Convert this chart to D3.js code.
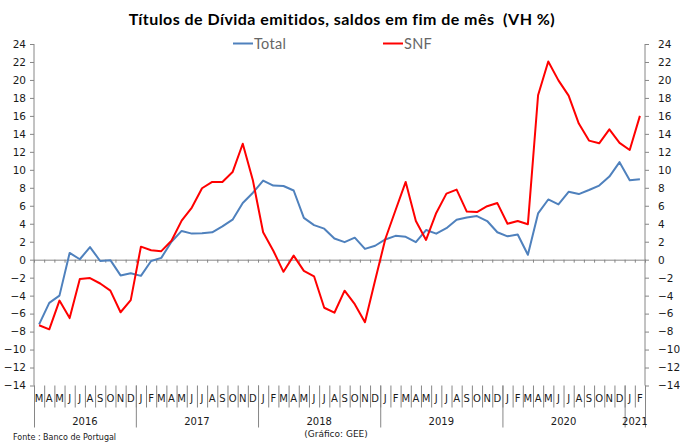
<!DOCTYPE html>
<html>
<head>
<meta charset="utf-8">
<script src="https://cdn.jsdelivr.net/npm/d3@7"></script>
<style>
body { margin: 0; background: #fff; }
svg { display: block; }
</style>
</head>
<body>
<div id="canvas"></div>
<script>
// ----------------------------------------------------------
// DATA -----------------------------------------------------
// ----------------------------------------------------------
// month letters, Mar 2016 .. Feb 2021
var month_labels = [
"M","A","M","J","J","A","S","O","N","D",
"J","F","M","A","M","J","J","A","S","O","N","D",
"J","F","M","A","M","J","J","A","S","O","N","D",
"J","F","M","A","M","J","J","A","S","O","N","D",
"J","F","M","A","M","J","J","A","S","O","N","D",
"J","F"];
// year groups: label + number of months
var year_labels = ["2016","2017","2018","2019","2020","2021"];
var year_counts = [10, 12, 12, 12, 12, 2];

var series_names = ["Total", "SNF"];

var values_total = [
-7.2, -4.8, -4.0, 0.75, 0.05, 1.4, -0.15, -0.05, -1.75, -1.5,
-1.8, -0.15, 0.2, 2.0, 3.2, 2.9, 2.95, 3.05, 3.7, 4.45, 6.3, 7.45,
8.8, 8.25, 8.2, 7.7, 4.65, 3.85, 3.45, 2.35, 1.95, 2.45, 1.2, 1.55,
2.25, 2.65, 2.55, 1.95, 3.3, 2.9, 3.5, 4.45, 4.7, 4.85, 4.3, 3.05,
2.6, 2.8, 0.55, 5.15, 6.7, 6.15, 7.55, 7.3, 7.75, 8.25, 9.25, 10.85,
8.85, 8.95];

var values_snf = [
-7.3, -7.75, -4.55, -6.5, -2.15, -2.05, -2.65, -3.45, -5.85, -4.5,
1.45, 1.05, 0.95, 2.1, 4.35, 5.8, 7.95, 8.65, 8.65, 9.75, 12.9, 8.8,
3.05, 1.0, -1.35, 0.45, -1.25, -1.85, -5.35, -5.9, -3.45, -4.95, -6.95, -2.3,
2.3, 5.5, 8.65, 4.3, 2.2, 5.2, 7.35, 7.8, 5.35, 5.3, 5.95, 6.3,
4.0, 4.3, 3.95, 18.3, 22.05, 19.95, 18.25, 15.15, 13.25, 12.95, 14.5, 13.0,
12.2, 16.0];

var y_ticks = [-14,-12,-10,-8,-6,-4,-2,0,2,4,6,8,10,12,14,16,18,20,22,24];

var text_title = "Títulos de Dívida emitidos, saldos em fim de mês  (VH %)";
var text_source = "Fonte : Banco de Portugal";
var text_credit = "(Gráfico: GEE)";


// ----------------------------------------------------------
// LAYOUT ---------------------------------------------------
// ----------------------------------------------------------
var W = 680, H = 447;
var plot_left = 34, plot_right = 645, plot_top = 44, plot_bottom = 385.5;
var color_axis = "#868686";
var color_text = "#1a1a1a";
var color_lines = ["#4f81bd", "#ff0000"];
var font_num = "'DejaVu Sans', sans-serif";
var font_cal = "Lato, 'Open Sans', sans-serif";

var svg = d3.select("#canvas").append("svg")
.attr("width", W)
.attr("height", H)
.style("background-color", "#fff");

var n = month_labels.length;

// band scale for the points, linear scale for boundaries
var xBand = d3.scaleBand()
.domain(d3.range(n))
.range([plot_left, plot_right]);
var xEdge = d3.scaleLinear()
.domain([0, n])
.range([plot_left, plot_right]);
var yScale = d3.scaleLinear()
.domain([-14, 24])
.range([plot_bottom, plot_top]);


// ----------------------------------------------------------
// AXES -----------------------------------------------------
// ----------------------------------------------------------
function styleAxis(g) {
g.select(".domain").attr("stroke", color_axis);
g.selectAll(".tick line").attr("stroke", color_axis);
g.selectAll(".tick text")
.style("font-family", font_num)
.style("font-size", "10.5px")
.attr("fill", color_text);
}

// left axis
svg.append("g")
.attr("transform", `translate(${plot_left},0)`)
.call(d3.axisLeft(yScale).tickValues(y_ticks).tickSize(4).tickSizeOuter(0).tickPadding(4))
.call(styleAxis)
.call(g => g.select(".domain").remove());

// right axis
svg.append("g")
.attr("transform", `translate(${plot_right},0)`)
.call(d3.axisRight(yScale).tickValues(y_ticks).tickSize(4).tickSizeOuter(0).tickPadding(9))
.call(styleAxis)
.call(g => g.select(".domain").remove());

// zero line with month ticks
svg.append("g")
.attr("transform", `translate(0,${yScale(0)})`)
.call(d3.axisBottom(xEdge).tickValues(d3.range(n + 1)).tickSize(3).tickSizeOuter(0).tickFormat(""))
.call(styleAxis);

// month label separators
svg.append("g")
.attr("transform", `translate(0,${plot_bottom})`)
.call(d3.axisBottom(xEdge).tickValues(d3.range(n + 1)).tickSize(22).tickSizeOuter(0).tickFormat(""))
.call(styleAxis)
.call(g => g.select(".domain").remove());

// year separators (incl. both edges)
var year_edges = [0];
year_counts.forEach(function(c, i) { year_edges.push(year_edges[i] + c); });
svg.append("g")
.attr("transform", `translate(0,${plot_bottom})`)
.call(d3.axisBottom(xEdge).tickValues(year_edges).tickSize(42).tickSizeOuter(0).tickFormat(""))
.call(styleAxis)
.call(g => g.select(".domain").remove());

// vertical axis lines
[plot_left, plot_right].forEach(function(x) {
svg.append("line")
.attr("x1", x).attr("x2", x)
.attr("y1", plot_top).attr("y2", plot_bottom)
.attr("stroke", color_axis);
});

// month letters
svg.append("g")
.attr("transform", `translate(0,${plot_bottom})`)
.call(d3.axisBottom(xBand).tickSize(0).tickPadding(9).tickFormat(function(d) { return month_labels[d]; }))
.call(styleAxis)
.call(g => g.select(".domain").remove())
.call(g => g.selectAll(".tick text").style("font-size", "10px"));

// year labels
svg.append("g")
.selectAll("text")
.data(year_labels)
.enter()
.append("text")
.attr("x", function(d, i) { return (xEdge(year_edges[i]) + xEdge(year_edges[i + 1])) / 2; })
.attr("y", 425)
.attr("text-anchor", "middle")
.style("font-family", font_num)
.style("font-size", "10px")
.attr("fill", color_text)
.text(function(d) { return d; });


// ----------------------------------------------------------
// LINES ----------------------------------------------------
// ----------------------------------------------------------
var line = d3.line()
.x(function(d, i) { return xBand(i) + xBand.bandwidth() / 2; })
.y(function(d) { return yScale(d); });

svg.append("g")
.selectAll("path")
.data([values_total, values_snf])
.enter()
.append("path")
.attr("d", line)
.attr("fill", "none")
.attr("stroke", function(d, i) { return color_lines[i]; })
.attr("stroke-width", 2)
.attr("stroke-linejoin", "round");


// ----------------------------------------------------------
// LEGEND ---------------------------------------------------
// ----------------------------------------------------------
var legend_x = [233, 383];
var legend = svg.append("g")
.selectAll("g")
.data(series_names)
.enter()
.append("g")
.attr("transform", function(d, i) { return `translate(${legend_x[i]},43.5)`; });
legend.append("line")
.attr("x1", 0).attr("x2", 20)
.attr("stroke", function(d, i) { return color_lines[i]; })
.attr("stroke-width", 2);
legend.append("text")
.attr("x", 21)
.attr("y", 5)
.style("font-family", font_cal)
.style("font-size", "14.5px")
.style("letter-spacing", "0.3px")
.attr("fill", "#666")
.text(function(d) { return d; });


// ----------------------------------------------------------
// TEXT -----------------------------------------------------
// ----------------------------------------------------------
svg.append("text")
.attr("x", 342)
.attr("y", 25)
.attr("text-anchor", "middle")
.style("font-family", font_cal)
.style("font-size", "16px")
.style("font-weight", "bold")
.style("letter-spacing", "0.45px")
.style("white-space", "pre")
.style("font-variant-ligatures", "none")
.attr("fill", "#000")
.text(text_title);

svg.append("text")
.attr("x", 13)
.attr("y", 440)
.style("font-family", font_num)
.style("font-size", "8px")
.attr("fill", color_text)
.text(text_source);

svg.append("text")
.attr("x", 336)
.attr("y", 437)
.attr("text-anchor", "middle")
.style("font-family", font_num)
.style("font-size", "9px")
.attr("fill", color_text)
.text(text_credit);
</script>
</body>
</html>
